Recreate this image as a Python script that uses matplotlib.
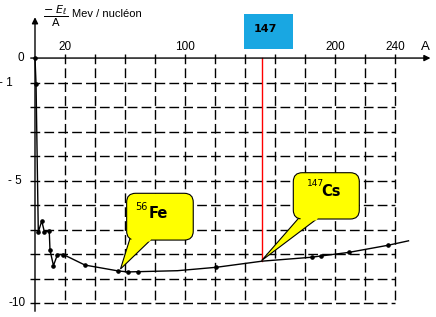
import numpy as np
import matplotlib
matplotlib.use('Agg')
import matplotlib.pyplot as plt
from matplotlib.patches import FancyBboxPatch, Polygon, Rectangle

mass_num = [0, 0.7, 2.2, 4.5, 6.2, 9.5, 10, 12.3, 15, 18.9, 33.3, 55.5, 61.8, 68.9,
            95, 121, 151.5, 184.5, 190.5, 209.5, 235.5, 249]
energy = [0, -1.06, -7.10, -6.65, -7.08, -7.06, -7.84, -8.47, -8.02, -8.02, -8.45, -8.69, -8.73, -8.72,
          -8.68, -8.54, -8.29, -8.13, -8.08, -7.93, -7.64, -7.46]
dotted = [1, 1, 1, 1, 1, 1, 1, 1, 1, 1, 1, 1, 1, 1,
          0, 1, 0, 1, 1, 1, 1, 0]
fe_idx = 11          # 56Fe
cs_idx = 16          # 147Cs

x_labels = [20, 100, 200, 240]
y_labels = [0, -1, -5, -10]
y_texts = ['0', '- 1', '- 5', '-10']
grid_a = np.arange(20, 241, 20)
grid_e = np.arange(-1, -11, -1)

fig = plt.figure(figsize=(4.36, 3.17), dpi=100)
ax = fig.add_axes([0, 0, 1, 1])
ax.set_xlim(-23.33, 267.33)
ax.set_ylim(-10.57, 2.37)
ax.axis('off')

# dashed grid
for a in grid_a:
    ax.plot([a, a], [0.15, -10], color='k', lw=1, dashes=(7, 3), zorder=1)
for e in grid_e:
    ax.plot([-3, 240], [e, e], color='k', lw=1, dashes=(7, 3), zorder=1)

# axes with arrows
ax.annotate('', xy=(265.5, 0), xytext=(-4.7, 0),
            arrowprops=dict(arrowstyle='-|>', color='k', lw=1, mutation_scale=9))
ax.annotate('', xy=(0, 1.78), xytext=(0, -10.45),
            arrowprops=dict(arrowstyle='-|>', color='k', lw=1, mutation_scale=9))

lab = dict(family='Liberation Sans', fontsize=8.5)
for v in x_labels:
    ax.text(v, 0.45, str(v), ha='center', va='center', **lab)
ax.text(260, 0.45, 'A', ha='center', va='center', family='Liberation Sans', fontsize=9.5)
for v, t, xo in zip(y_labels, y_texts, [-7, -14.5, -8.5, -6.5]):
    ax.text(xo, v, t, ha='right', va='center', **lab)

ax.text(14, 1.72, r'$\dfrac{-\ E_\ell}{\mathrm{A}}$', ha='center', va='center', fontsize=8)
ax.text(25, 1.8, 'Mev / nucléon', ha='left', va='center', family='Liberation Sans', fontsize=8)

# curve
ax.plot(mass_num, energy, color='k', lw=1, zorder=3)
ma = [a for a, d in zip(mass_num, dotted) if d]
me = [e for e, d in zip(energy, dotted) if d]
ax.plot(ma, me, 'o', color='k', ms=2.3, zorder=3)

# red line at 147Cs and blue label box
ax.plot([mass_num[cs_idx]] * 2, [0, energy[cs_idx]], color='red', lw=1, zorder=2)
ax.add_patch(Rectangle((139.3, 0.37), 32.7, 1.43, fc='#19a7e2', ec='none', zorder=2))
ax.text(153.5, 1.2, '147', ha='center', va='center', fontsize=8, fontweight='bold')

asp = (1 / 24.5) / (1 / 1.5)


def callout(x0, x1, y0, y1, b0, b1, tip):
    tx, ty = tip
    ax.add_patch(Polygon([(b0, y0 + 0.1), (tx, ty), (b1, y0 + 0.1)], closed=True,
                         fc='yellow', ec='k', lw=0.8, zorder=5))
    ax.add_patch(FancyBboxPatch((x0, y0), x1 - x0, y1 - y0,
                                boxstyle='round,pad=0,rounding_size=6', mutation_aspect=asp,
                                fc='yellow', ec='k', lw=0.8, zorder=6))
    # hide the box edge where the tail joins
    f = 0.06 / (y0 - ty)
    c0 = b0 + (tx - b0) * f + 0.9
    c1 = b1 + (tx - b1) * f - 0.9
    ax.add_patch(Polygon([(b0 + 0.9, y0 + 0.1), (c0, y0 - 0.06), (c1, y0 - 0.06), (b1 - 0.9, y0 + 0.1)],
                         closed=True, fc='yellow', ec='none', zorder=7))


callout(61.1, 105.5, -7.43, -5.52, 63.5, 78.7, (mass_num[fe_idx] + 1.5, energy[fe_idx] + 0.08))
ax.text(71.1, -6.07, '56', ha='center', va='center', fontsize=7, zorder=8)
ax.text(82, -6.35, 'Fe', ha='center', va='center', fontsize=10.5, fontweight='bold', zorder=8)

callout(172.2, 216.2, -6.57, -4.68, 176.7, 190, (mass_num[cs_idx] - 0.5, energy[cs_idx] + 0.02))
ax.text(186.7, -5.11, '147', ha='center', va='center', fontsize=6.5, zorder=8)
ax.text(197, -5.46, 'Cs', ha='center', va='center', fontsize=10.5, fontweight='bold', zorder=8)

fig.savefig('out.png', dpi=100)
